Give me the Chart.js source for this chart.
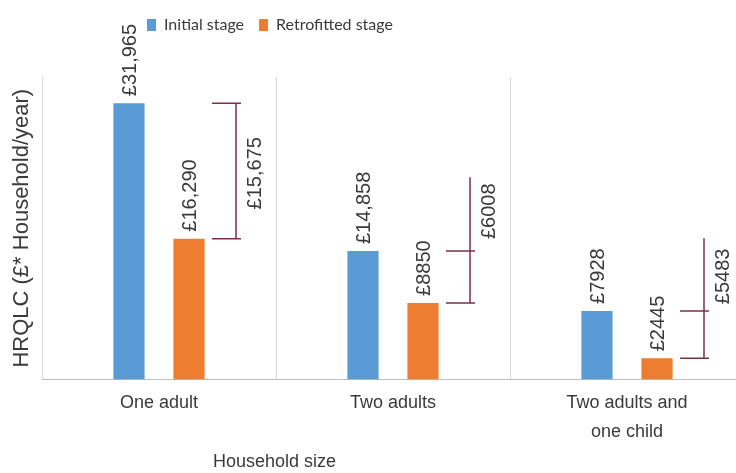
<!DOCTYPE html>
<html>
<head>
<meta charset="utf-8">
<title>HRQLC by household size</title>
<script src="https://cdn.jsdelivr.net/npm/chart.js@4.4.1/dist/chart.umd.min.js"></script>
<style>
  html, body { margin: 0; padding: 0; background: #fff; overflow: hidden; }
  #wrap { width: 752px; height: 473px; }
</style>
</head>
<body>
<div id="wrap"><canvas id="chart" width="752" height="473"></canvas></div>
<script>
// Data
const categories = [['One adult'], ['Two adults'], ['Two adults and', 'one child']];
const initialStage = [31965, 14858, 7928];
const retrofittedStage = [16290, 8850, 2445];
const savingLabels = ['£15,675', '£6008', '£5483'];
const bracketTop = [31965, 23400, 16330];     // upper end of each red bracket
const savingLabelAt = [23860, 19460, 11930];  // where the saving label sits
const yMax = 35000;

const textColor = '#3a3a3a';
const bracketColor = '#7b3049';

// £ with thousands separator only on 5-digit values, like the original
function money(v) {
  return '£' + (v >= 10000 ? v.toLocaleString('en-GB') : String(v));
}

// Rotated value labels above each bar
const barLabels = {
  id: 'barLabels',
  afterDatasetsDraw(chart) {
    const ctx = chart.ctx;
    ctx.save();
    ctx.font = '20px "Liberation Sans", Arial, sans-serif';
    ctx.fillStyle = textColor;
    ctx.textAlign = 'left';
    ctx.textBaseline = 'middle';
    chart.data.datasets.forEach((ds, i) => {
      chart.getDatasetMeta(i).data.forEach((bar, j) => {
        ctx.save();
        ctx.translate(bar.x + 1, bar.y - 7);
        ctx.rotate(-Math.PI / 2);
        ctx.fillText(money(ds.data[j]), 0, 0);
        ctx.restore();
      });
    });
    ctx.restore();
  }
};

// Saving brackets to the right of each group
const savingBrackets = {
  id: 'savingBrackets',
  afterDatasetsDraw(chart) {
    const ctx = chart.ctx;
    const x = chart.scales.x, y = chart.scales.y;
    ctx.save();
    ctx.strokeStyle = bracketColor;
    ctx.lineWidth = 1.5;
    categories.forEach((c, j) => {
      const cx = x.getPixelForValue(j);
      const vx = cx + 77;
      const yTop = y.getPixelForValue(bracketTop[j]);
      const yInit = y.getPixelForValue(initialStage[j]);
      const yRetro = y.getPixelForValue(retrofittedStage[j]);
      ctx.beginPath();
      ctx.moveTo(vx, yTop);
      ctx.lineTo(vx, yRetro);
      ctx.moveTo(cx + 53, yInit);
      ctx.lineTo(cx + 82, yInit);
      ctx.moveTo(cx + 53, yRetro);
      ctx.lineTo(cx + 82, yRetro);
      ctx.stroke();

      ctx.save();
      ctx.font = '20px "Liberation Sans", Arial, sans-serif';
      ctx.fillStyle = textColor;
      ctx.textAlign = 'center';
      ctx.textBaseline = 'middle';
      ctx.translate(cx + 96, y.getPixelForValue(savingLabelAt[j]));
      ctx.rotate(-Math.PI / 2);
      ctx.fillText(savingLabels[j], 0, 0);
      ctx.restore();
    });
    ctx.restore();
  }
};

// Legend and bottom title sit left of centre in the original crop
const shiftBoxes = {
  id: 'shiftBoxes',
  afterLayout(chart) {
    const lg = chart.legend;
    lg.top -= 34; lg.bottom -= 34;
    lg.left += 132; lg.right += 132;
    const t = chart.titleBlock;
    if (t) { t.left += 213; t.right += 213; }
  }
};

new Chart(document.getElementById('chart'), {
  type: 'bar',
  data: {
    labels: categories,
    datasets: [
      {
        label: 'Initial stage',
        data: initialStage,
        backgroundColor: '#5b9bd5',
        categoryPercentage: 0.513,
        barPercentage: 0.52
      },
      {
        label: 'Retrofitted stage',
        data: retrofittedStage,
        backgroundColor: '#ed7d31',
        categoryPercentage: 0.513,
        barPercentage: 0.52
      }
    ]
  },
  options: {
    responsive: false,
    animation: false,
    devicePixelRatio: 1,
    layout: { padding: { top: 36, right: 8, left: 0, bottom: 0 } },
    plugins: {
      legend: {
        position: 'top',
        align: 'start',
        labels: {
          color: '#3a3a3a',
          font: { family: 'Lato, "Open Sans", sans-serif', size: 16 },
          boxWidth: 9,
          boxHeight: 12,
          padding: 15
        }
      },
      title: {
        display: true,
        text: 'Household size',
        position: 'bottom',
        align: 'start',
        color: textColor,
        font: { family: '"Liberation Sans", Arial, sans-serif', size: 18, weight: 'normal' },
        padding: { top: 5, bottom: 0 }
      },
      tooltip: { enabled: false }
    },
    scales: {
      x: {
        grid: { color: '#d9d9d9', drawTicks: false, offset: true },
        border: { color: '#bfbfbf' },
        ticks: {
          color: textColor,
          padding: 9,
          maxRotation: 0,
          font: { family: '"Liberation Sans", Arial, sans-serif', size: 18, lineHeight: 1.6 }
        },
        afterFit(scale) { scale.height = 67; }
      },
      y: {
        min: 0,
        max: yMax,
        grid: { display: false },
        border: { display: false },
        ticks: { display: false },
        title: {
          display: true,
          text: 'HRQLC (£* Household/year)',
          color: textColor,
          font: { family: '"Liberation Sans", Arial, sans-serif', size: 22 },
          padding: { top: 9, bottom: 0 }
        },
        afterFit(scale) { scale.width = 42; }
      }
    }
  },
  plugins: [shiftBoxes, barLabels, savingBrackets]
});
</script>
</body>
</html>
